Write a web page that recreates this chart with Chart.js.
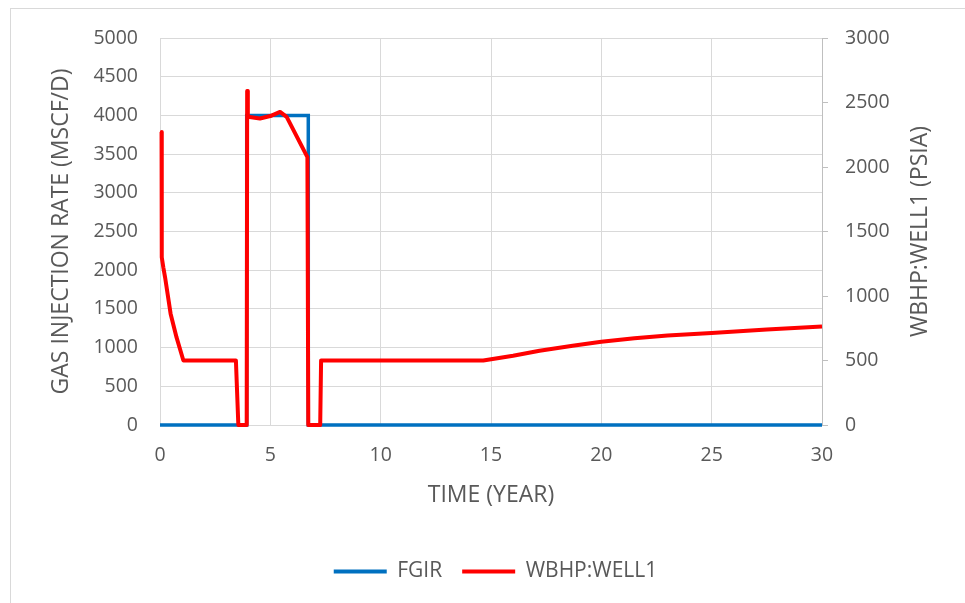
<!DOCTYPE html>
<html>
<head>
<meta charset="utf-8">
<script src="https://cdn.jsdelivr.net/npm/chart.js@4"></script>
<style>
    html, body { margin: 0; padding: 0; background: #fff; overflow: hidden; }
    #frame {
        position: absolute; left: 10px; top: 8px;
        width: 1200px; height: 800px;
        border: 1px solid #d9d9d9;
    }
    #wrap { position: absolute; left: 0; top: 0; width: 965px; height: 603px; }
</style>
</head>
<body>
<div id="frame"></div>
<div id="wrap"><canvas id="chart" width="965" height="603"></canvas></div>
<script>
// FGIR: field gas injection rate (MSCF/D) vs time (years)
const fgirTime = [0, 3.93, 3.93, 6.72, 6.72, 30];
const fgirRate = [0, 0, 4000, 4000, 0, 0];

// WBHP:WELL1 bottom hole pressure (PSIA) vs time (years)
const wbhpTime = [0.07, 0.08, 0.15, 0.23, 0.48, 0.75, 1.06, 3.44, 3.55, 3.93, 3.95, 3.98,
    4.53, 5.0, 5.44, 5.74, 6.68, 6.72, 7.26, 7.3, 14.65, 16, 17.2, 18.7, 20, 21.5,
    23, 25, 27.5, 30];
const wbhpPres = [2272, 1300, 1222, 1145, 863, 679, 500, 500, 0, 0, 2590, 2390,
    2376, 2395, 2427, 2388, 2077, 0, 0, 500, 500, 537, 575, 614, 645, 672,
    694, 714, 741, 764];

const xTicks = [0, 5, 10, 15, 20, 25, 30];
const leftTicks = [0, 500, 1000, 1500, 2000, 2500, 3000, 3500, 4000, 4500, 5000];
const rightTicks = [0, 500, 1000, 1500, 2000, 2500, 3000];

const rightTitle = "WBHP:WELL1 (PSIA)";

const FONT = "'Open Sans', sans-serif";
const TEXT = "#595959";
const GRID = "#d9d9d9";

const toPoints = (xs, ys) => xs.map((x, i) => ({ x: x, y: ys[i] }));
const plain = v => String(v);

// right axis title reads bottom-to-top like the left one
const rightTitlePlugin = {
    id: "rightTitle",
    afterDraw(chart) {
        const ctx = chart.ctx;
        const area = chart.chartArea;
        ctx.save();
        ctx.translate(920, (area.top + area.bottom) / 2);
        ctx.rotate(-Math.PI / 2);
        ctx.font = "23px " + FONT;
        ctx.fillStyle = TEXT;
        ctx.textAlign = "center";
        ctx.textBaseline = "middle";
        ctx.fillText(rightTitle, 0, 0);
        ctx.restore();
    }
};

new Chart(document.getElementById("chart"), {
    type: "line",
    data: {
        datasets: [
            {
                label: "FGIR",
                data: toPoints(fgirTime, fgirRate),
                yAxisID: "y",
                borderColor: "#0070c0",
                backgroundColor: "#0070c0",
                borderWidth: 3.5,
                pointRadius: 0,
                tension: 0,
                clip: 6,
                order: 1
            },
            {
                label: "WBHP:WELL1",
                data: toPoints(wbhpTime, wbhpPres),
                yAxisID: "y1",
                borderColor: "#ff0000",
                backgroundColor: "#ff0000",
                borderWidth: 4,
                borderJoinStyle: "round",
                pointRadius: 0,
                tension: 0,
                clip: 6,
                order: 0
            }
        ]
    },
    options: {
        responsive: false,
        animation: false,
        layout: { padding: { top: 38, left: 26, right: 0, bottom: 11 } },
        plugins: {
            tooltip: { enabled: false },
            legend: {
                position: "bottom",
                labels: {
                    font: { family: FONT, size: 21 },
                    color: TEXT,
                    boxWidth: 53,
                    boxHeight: 4,
                    padding: 20,
                    sort: (a, b) => a.datasetIndex - b.datasetIndex,
                    generateLabels: chart => chart.data.datasets.map((ds, i) => ({
                        text: ds.label,
                        fillStyle: ds.borderColor,
                        strokeStyle: ds.borderColor,
                        lineWidth: 0,
                        fontColor: TEXT,
                        datasetIndex: i
                    }))
                }
            }
        },
        scales: {
            x: {
                type: "linear",
                min: 0,
                max: 30,
                afterBuildTicks: s => { s.ticks = xTicks.map(v => ({ value: v })); },
                afterFit: s => { s.height = 116; },
                grid: { color: GRID, drawTicks: false },
                border: { color: GRID },
                ticks: { font: { family: FONT, size: 19.5 }, color: TEXT, padding: 19, maxRotation: 0, callback: plain },
                title: {
                    display: true,
                    text: "TIME (YEAR)",
                    font: { family: FONT, size: 23 },
                    color: TEXT,
                    padding: { top: 0, bottom: 32 }
                }
            },
            y: {
                position: "left",
                min: 0,
                max: 5000,
                afterBuildTicks: s => { s.ticks = leftTicks.map(v => ({ value: v })); },
                afterFit: s => { s.width = 134; },
                grid: { color: GRID, drawTicks: false },
                border: { color: GRID },
                ticks: { font: { family: FONT, size: 19.5 }, color: TEXT, padding: 22, callback: plain },
                title: {
                    display: true,
                    text: "GAS INJECTION RATE (MSCF/D)",
                    font: { family: FONT, size: 23 },
                    color: TEXT,
                    padding: { top: 22, bottom: 0 }
                }
            },
            y1: {
                position: "right",
                min: 0,
                max: 3000,
                afterBuildTicks: s => { s.ticks = rightTicks.map(v => ({ value: v })); },
                afterFit: s => { s.width = 143; },
                grid: { drawOnChartArea: false, color: "#bfbfbf", tickLength: 6 },
                border: { color: "#bfbfbf" },
                ticks: { font: { family: FONT, size: 19.5 }, color: TEXT, padding: 17, callback: plain }
            }
        }
    },
    plugins: [rightTitlePlugin]
});
</script>
</body>
</html>
